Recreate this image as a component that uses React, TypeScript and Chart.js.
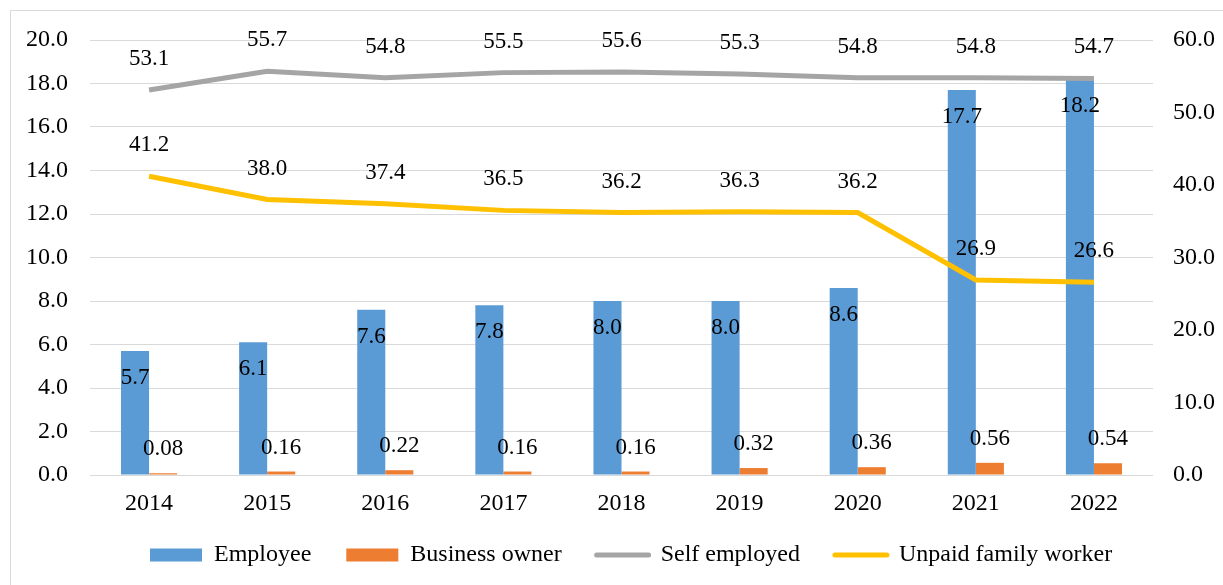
import React, { useEffect, useRef } from "react";
import { Chart, registerables } from "chart.js";

Chart.register(...registerables);

const categories = ["2014", "2015", "2016", "2017", "2018", "2019", "2020", "2021", "2022"];
const employee = [5.7, 6.1, 7.6, 7.8, 8.0, 8.0, 8.6, 17.7, 18.2];
const businessOwner = [0.08, 0.16, 0.22, 0.16, 0.16, 0.32, 0.36, 0.56, 0.54];
const selfEmployed = [53.1, 55.7, 54.8, 55.5, 55.6, 55.3, 54.8, 54.8, 54.7];
const unpaidFamilyWorker = [41.2, 38.0, 37.4, 36.5, 36.2, 36.3, 36.2, 26.9, 26.6];

const seriesNames = ["Employee", "Business owner", "Self employed", "Unpaid family worker"];
const seriesColors = ["#5B9BD5", "#ED7D31", "#A5A5A5", "#FFC000"];

const FONT = "'Liberation Serif', 'Times New Roman', serif";
const LEGEND_PAD = 35;

export default function App() {
  const ref = useRef<HTMLCanvasElement | null>(null);

  useEffect(() => {
    const canvas = ref.current;
    if (!canvas) return;

    const framePlugin = {
      id: "frame",
      beforeDraw(chart: any) {
        const ctx = chart.ctx;
        ctx.save();
        ctx.fillStyle = "#ffffff";
        ctx.fillRect(0, 0, chart.width, chart.height);
        ctx.strokeStyle = "#D9D9D9";
        ctx.lineWidth = 1;
        ctx.strokeRect(10.5, 10.5, chart.width + 100, chart.height + 100);
        ctx.restore();
      },
    };

    const legendShift = {
      id: "legendShift",
      afterLayout(chart: any) {
        const lg = chart.legend;
        if (!lg || !lg.lineWidths) return;
        const start = (lg.left + LEGEND_PAD + lg.right - lg.lineWidths[0]) / 2;
        const dx = 150 - start;
        const dy = 508 - lg.top;
        lg.left += dx;
        lg.right += dx;
        lg.top += dy;
        lg.bottom += dy;
      },
    };

    const labelPlugin = {
      id: "valueLabels",
      afterDatasetsDraw(chart: any) {
        const ctx = chart.ctx;
        ctx.save();
        ctx.font = `23px ${FONT}`;
        ctx.fillStyle = "#000000";
        ctx.textAlign = "center";
        ctx.textBaseline = "middle";
        chart.data.datasets.forEach((ds: any, di: number) => {
          const meta = chart.getDatasetMeta(di);
          meta.data.forEach((el: any, i: number) => {
            const v = ds.data[i] as number;
            const text = di === 1 ? v.toFixed(2) : v.toFixed(1);
            let y = el.y;
            if (di === 0) y += 27;
            else if (di === 1) y -= 24;
            else y -= 31;
            ctx.fillText(text, el.x, y);
          });
        });
        ctx.restore();
      },
    };

    const chart = new Chart(canvas, {
      type: "bar",
      data: {
        labels: categories,
        datasets: [
          {
            type: "bar",
            label: seriesNames[0],
            data: employee,
            backgroundColor: seriesColors[0],
            borderWidth: 0,
            yAxisID: "y",
            order: 2,
            barPercentage: 1,
            categoryPercentage: 0.475,
          },
          {
            type: "bar",
            label: seriesNames[1],
            data: businessOwner,
            backgroundColor: seriesColors[1],
            borderWidth: 0,
            yAxisID: "y",
            order: 2,
            barPercentage: 1,
            categoryPercentage: 0.475,
          },
          {
            type: "line",
            label: seriesNames[2],
            data: selfEmployed,
            borderColor: seriesColors[2],
            backgroundColor: seriesColors[2],
            borderWidth: 5,
            pointRadius: 0,
            tension: 0,
            yAxisID: "y1",
            order: 1,
          },
          {
            type: "line",
            label: seriesNames[3],
            data: unpaidFamilyWorker,
            borderColor: seriesColors[3],
            backgroundColor: seriesColors[3],
            borderWidth: 5,
            pointRadius: 0,
            tension: 0,
            yAxisID: "y1",
            order: 1,
          },
        ] as any,
      },
      options: {
        animation: false,
        responsive: false,
        maintainAspectRatio: false,
        layout: { padding: { top: 40, left: 0, right: 0, bottom: 0 } },
        plugins: {
          tooltip: { enabled: false },
          legend: {
            position: "bottom",
            labels: {
              font: { family: FONT, size: 24 },
              color: "#000000",
              usePointStyle: true,
              pointStyleWidth: 52,
              boxHeight: 13,
              padding: LEGEND_PAD,
              generateLabels: (c: any) =>
                c.data.datasets.map((ds: any, i: number) => {
                  const isLine = i >= 2;
                  return {
                    text: ds.label,
                    fillStyle: seriesColors[i],
                    strokeStyle: seriesColors[i],
                    lineWidth: isLine ? 5 : 0,
                    lineCap: "round",
                    pointStyle: isLine ? "line" : "rect",
                    hidden: false,
                    datasetIndex: i,
                    fontColor: "#000000",
                  };
                }),
            },
          },
        },
        scales: {
          x: {
            grid: { display: false, drawTicks: false },
            border: { display: false },
            ticks: { font: { family: FONT, size: 24 }, color: "#000000", padding: 14 },
            afterFit: (s: any) => {
              s.height = 41;
            },
          },
          y: {
            position: "left",
            min: 0,
            max: 20,
            grid: { color: "#D9D9D9", lineWidth: 1, drawTicks: false },
            border: { display: false },
            ticks: {
              stepSize: 2,
              padding: 22,
              font: { family: FONT, size: 24 },
              color: "#000000",
              callback: (v: any) => Number(v).toFixed(1),
            },
            afterFit: (s: any) => {
              s.width = 90;
            },
          },
          y1: {
            position: "right",
            min: 0,
            max: 60,
            grid: { display: false, drawTicks: false },
            border: { display: false },
            ticks: {
              stepSize: 10,
              padding: 20,
              font: { family: FONT, size: 24 },
              color: "#000000",
              callback: (v: any) => Number(v).toFixed(1),
            },
            afterFit: (s: any) => {
              s.width = 70;
            },
          },
        },
      } as any,
      plugins: [framePlugin, legendShift, labelPlugin],
    });

    return () => {
      chart.destroy();
    };
  }, []);

  return (
    <div style={{ position: "fixed", left: 0, top: 0, width: 1223, height: 585, background: "#fff" }}>
      <canvas ref={ref} width={1223} height={585} style={{ display: "block", width: 1223, height: 585 }} />
    </div>
  );
}
